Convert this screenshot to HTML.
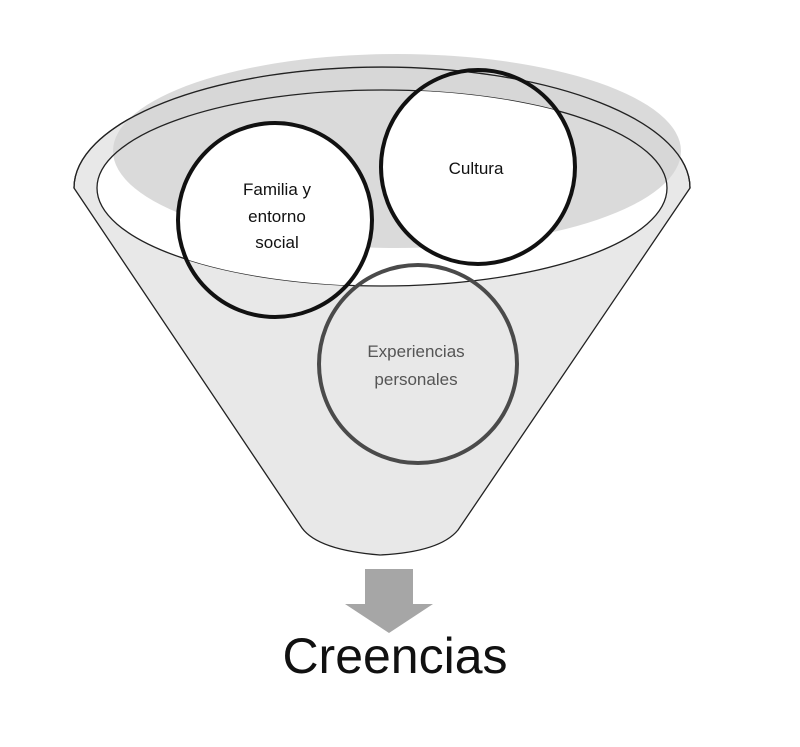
<!DOCTYPE html>
<html><head><meta charset="utf-8"><style>
html,body{margin:0;padding:0;background:#fff;width:800px;height:747px;overflow:hidden}
svg{display:block}
</style></head><body>
<svg width="800" height="747" viewBox="0 0 800 747" xmlns="http://www.w3.org/2000/svg">
<defs>
<clipPath id="inner"><ellipse cx="382" cy="188" rx="285" ry="98"/></clipPath>
</defs>
<!-- funnel body -->
<path d="M74,188 A308,121 0 0 1 690,188 L458,530 Q440,552 380,555 Q318,550 302,528 Z" fill="#e8e8e8" stroke="#222" stroke-width="1.3"/>
<ellipse cx="382" cy="188" rx="285" ry="98" fill="#fff"/>
<ellipse cx="397" cy="151" rx="284" ry="97" fill="#d4d4d4" opacity="0.85"/>
<path d="M74,188 A308,121 0 0 1 690,188" fill="none" stroke="#222" stroke-width="1.3"/>
<ellipse cx="382" cy="188" rx="285" ry="98" fill="none" stroke="#222" stroke-width="1.3"/>
<!-- circles -->
<g clip-path="url(#inner)">
<circle cx="275" cy="220" r="97" fill="#fff"/>
<circle cx="478" cy="167" r="97" fill="#fff"/>
</g>
<circle cx="418" cy="364" r="99" fill="none" stroke="#4a4a4a" stroke-width="4"/>
<circle cx="275" cy="220" r="97" fill="none" stroke="#111" stroke-width="4"/>
<circle cx="478" cy="167" r="97" fill="none" stroke="#111" stroke-width="4"/>
<g font-family="'Liberation Sans',sans-serif" font-size="17" text-anchor="middle">
<text x="277" y="195" fill="#111">Familia y</text>
<text x="277" y="222" fill="#111">entorno</text>
<text x="277" y="248" fill="#111">social</text>
<text x="476" y="174" fill="#111">Cultura</text>
<text x="416" y="357" fill="#555">Experiencias</text>
<text x="416" y="385" fill="#555">personales</text>
</g>
<!-- arrow -->
<path d="M365,569 H413 V604 H433 L389,633 L345,604 H365 Z" fill="#a6a6a6"/>
<text x="395" y="673" font-family="'Liberation Sans',sans-serif" font-size="50" text-anchor="middle" fill="#111">Creencias</text>
</svg>
</body></html>
